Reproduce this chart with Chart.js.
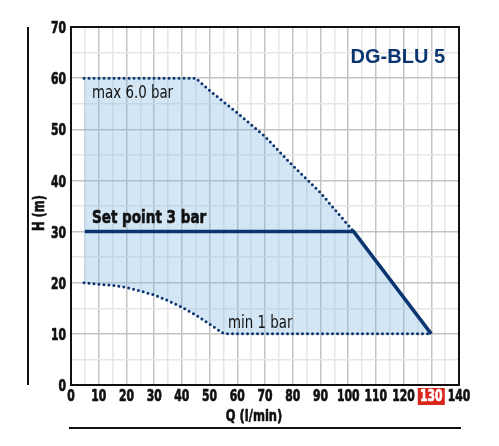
<!DOCTYPE html>
<html>
<head>
<meta charset="utf-8">
<script src="https://cdn.jsdelivr.net/npm/chart.js@4/dist/chart.umd.min.js"></script>
<style>
  html, body { margin:0; padding:0; background:#fff; }
  #wrap { width:499px; height:446px; position:relative; }
</style>
</head>
<body>
<div id="wrap"><canvas id="c" width="499" height="446"></canvas></div>
<script>
// DG-BLU 5 — working field (H vs Q)

// max 6.0 bar boundary
const maxQ = [4.7, 45, 50, 60, 70, 80, 90, 102];
const maxH = [60, 60, 57.6, 53.2, 48.6, 42.9, 37.6, 30];
// min 1 bar boundary
const minQ = [4.7, 10, 15, 20, 25, 30, 35, 40, 45, 50, 53, 55, 56, 130];
const minH = [20, 19.7, 19.5, 19.1, 18.4, 17.6, 16.5, 15.2, 13.7, 11.9, 10.8, 10.1, 10, 10];
// set point 3 bar curve
const setQ = [5, 102, 130];
const setH = [30, 30, 10];

const xTicks = [0, 10, 20, 30, 40, 50, 60, 70, 80, 90, 100, 110, 120, 130, 140];
const yTicks = [0, 10, 20, 30, 40, 50, 60, 70];
const markedQ = 130;

const NAVY = '#0a3570';
const NARROW = '"DejaVu Sans Condensed", "DejaVu Sans", sans-serif';
const TICKFONT = 'bold 16px ' + NARROW;

const pts = (xs, ys) => xs.map((x, i) => ({x: x, y: ys[i]}));

// shaded area: top edge (max + set point slope) then min edge backwards
const areaPts = pts(maxQ, maxH)
  .concat(pts(setQ.slice(2), setH.slice(2)))
  .concat(pts(minQ, minH).reverse());

// text squeezed horizontally (no narrow font installed); heavy = extra stroke
function squeezed(c, txt, x, y, font, sx, align, heavy) {
  c.save();
  c.font = font;
  c.textAlign = align || 'left';
  c.translate(x, y);
  c.scale(sx, 1);
  c.fillText(txt, 0, 0);
  if (heavy) {
    c.strokeStyle = c.fillStyle;
    c.lineWidth = heavy;
    c.lineJoin = 'round';
    c.strokeText(txt, 0, 0);
  }
  c.restore();
}

const deco = {
  id: 'deco',
  beforeDraw(chart) {
    const c = chart.ctx, x = chart.scales.x;
    const px = x.getPixelForValue(markedQ);
    c.save();
    c.fillStyle = '#d9261c';
    c.fillRect(px - 13.5, 388, 27, 17);
    c.restore();
  },
  afterDraw(chart) {
    const c = chart.ctx, a = chart.chartArea;
    const xs = chart.scales.x, ys = chart.scales.y;
    c.save();
    // frame
    c.strokeStyle = '#111';
    c.lineWidth = 2;
    c.strokeRect(a.left, a.top, a.right - a.left, a.bottom - a.top);
    // side rule + bottom rule
    c.beginPath();
    c.moveTo(28, a.top); c.lineTo(28, a.bottom);
    c.moveTo(69, 428); c.lineTo(461, 428);
    c.stroke();

    // tick labels from the scales' own ticks
    c.textBaseline = 'middle';
    xs.ticks.forEach((t, i) => {
      if (!t.label) return;
      c.fillStyle = t.value === markedQ ? '#fff' : '#111';
      squeezed(c, t.label, xs.getPixelForTick(i), 396.5, TICKFONT, 0.75, 'center', 0.7);
    });
    c.fillStyle = '#111';
    ys.ticks.forEach((t, i) => {
      if (!t.label) return;
      squeezed(c, t.label, 66, ys.getPixelForTick(i) + 2, TICKFONT, 0.75, 'right', 0.7);
    });

    // axis titles
    squeezed(c, 'Q (l/min)', 254, 417, 'bold 16px ' + NARROW, 0.8, 'center', 0.6);
    c.save();
    c.translate(40, 213);
    c.rotate(-Math.PI / 2);
    squeezed(c, 'H (m)', 0, 0, 'bold 16px ' + NARROW, 0.8, 'center', 0.6);
    c.restore();

    // curve labels
    c.textBaseline = 'alphabetic';
    squeezed(c, 'max 6.0 bar', 92, 98, '17px ' + NARROW, 0.875);
    squeezed(c, 'min 1 bar', 228, 328, '17px ' + NARROW, 0.875);
    squeezed(c, 'Set point 3 bar', 92, 223, 'bold 18px ' + NARROW, 0.836, 'left', 0.6);

    c.fillStyle = NAVY;
    c.textAlign = 'right';
    c.font = 'bold 20px "Liberation Sans", Arial, sans-serif';
    c.fillText('DG-BLU 5', 445, 63);
    c.restore();
  }
};

const gridCol = ctx => (ctx.tick && ctx.tick.value % 10 === 0) ? '#c4c4c4' : '#e6e6e6';

new Chart(document.getElementById('c'), {
  type: 'scatter',
  data: {
    datasets: [
      {
        data: pts(setQ, setH), showLine: true, fill: false,
        borderColor: NAVY, borderWidth: 3.5, borderJoinStyle: 'miter',
        pointRadius: 0
      },
      {
        data: pts(maxQ, maxH), showLine: true, fill: false,
        borderColor: NAVY, borderWidth: 3, borderDash: [0, 5],
        borderCapStyle: 'round', pointRadius: 0
      },
      {
        data: pts(minQ, minH), showLine: true, fill: false,
        borderColor: NAVY, borderWidth: 3, borderDash: [0, 5],
        borderCapStyle: 'round', pointRadius: 0
      },
      {
        // last in the list, so it is painted first (under the lines)
        data: areaPts, showLine: true, fill: 'shape',
        backgroundColor: 'rgba(129,184,226,0.35)',
        borderWidth: 0, pointRadius: 0
      }
    ]
  },
  options: {
    responsive: false, animation: false,
    layout: { padding: { left: 0, top: 27, right: 40, bottom: 0 } },
    plugins: { legend: { display: false }, tooltip: { enabled: false } },
    scales: {
      x: {
        type: 'linear', min: 0, max: 140,
        afterFit: s => { s.height = 61; },
        border: { display: false },
        grid: { color: gridCol, lineWidth: 1.5, drawTicks: false },
        ticks: {
          display: false, stepSize: 5, autoSkip: false,
          callback: v => xTicks.includes(v) ? String(v) : ''
        }
      },
      y: {
        type: 'linear', min: 0, max: 70,
        afterFit: s => { s.width = 71; },
        border: { display: false },
        grid: { color: gridCol, lineWidth: 1.5, drawTicks: false },
        ticks: {
          display: false, stepSize: 5, autoSkip: false,
          callback: v => yTicks.includes(v) ? String(v) : ''
        }
      }
    }
  },
  plugins: [deco]
});
</script>
</body>
</html>
